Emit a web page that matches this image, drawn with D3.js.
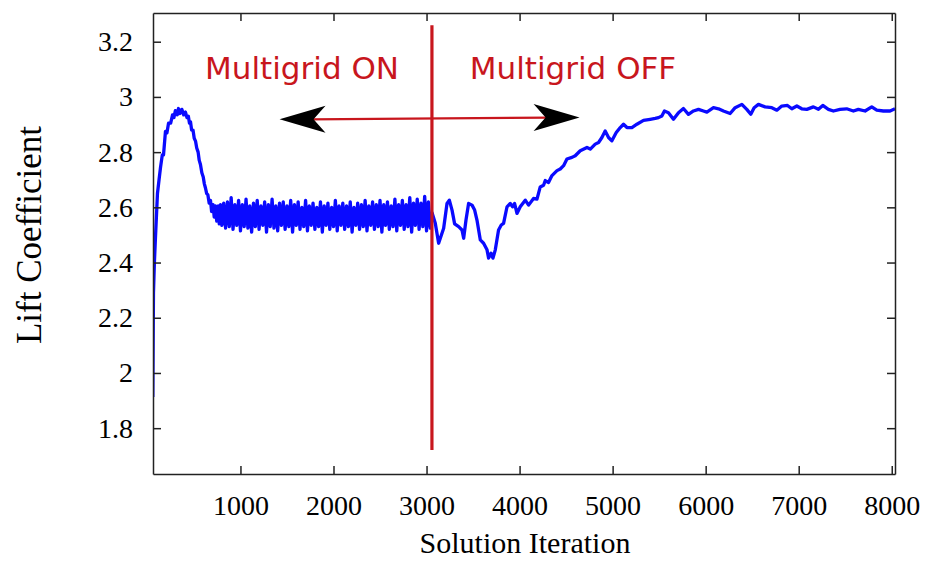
<!DOCTYPE html>
<html>
<head>
<meta charset="utf-8">
<script src="https://cdn.jsdelivr.net/npm/d3@7"></script>
<style>
  body { margin: 0; background: #fff; }
  .axis path, .axis line { stroke: #222; stroke-width: 1.5; }
</style>
</head>
<body>
<div id="chart"></div>
<script>
// start-up transient
var rampIter = [58, 65, 75, 87, 108, 125, 141, 160, 173, 194, 210, 227, 250, 270, 285, 300, 320, 334, 350,
    370, 390, 409, 425, 440, 452, 463, 475, 490, 503, 517, 530, 545, 557, 570, 585, 600, 612, 624, 637,
    650, 664, 678, 690, 705, 718, 731, 745, 760, 772, 785];
var rampLift = [1.913, 2.29, 2.40, 2.495, 2.65, 2.70, 2.745, 2.79, 2.79, 2.875, 2.87, 2.905, 2.905, 2.935,
    2.925, 2.95, 2.935, 2.958, 2.94, 2.955, 2.935, 2.945, 2.925, 2.93, 2.905, 2.91, 2.88, 2.88, 2.85,
    2.84, 2.815, 2.80, 2.77, 2.755, 2.725, 2.71, 2.685, 2.67, 2.65, 2.645, 2.615, 2.625, 2.585, 2.61,
    2.565, 2.605, 2.55, 2.605, 2.54, 2.61];

// multigrid ON oscillation, one sample every 20 iterations from 800
var mgStart = 800, mgStep = 20;
var mgLift = [2.535, 2.615, 2.525, 2.62, 2.53, 2.635, 2.52, 2.61, 2.535, 2.625, 2.515, 2.61, 2.53, 2.63,
    2.525, 2.605, 2.51, 2.615, 2.53, 2.625, 2.52, 2.605, 2.535, 2.62, 2.51, 2.61, 2.53, 2.63, 2.525,
    2.605, 2.515, 2.615, 2.535, 2.62, 2.52, 2.605, 2.53, 2.625, 2.51, 2.61, 2.535, 2.62, 2.52, 2.60,
    2.53, 2.625, 2.515, 2.605, 2.535, 2.615, 2.52, 2.60, 2.53, 2.62, 2.51, 2.605, 2.535, 2.615, 2.52,
    2.60, 2.53, 2.625, 2.515, 2.605, 2.535, 2.615, 2.52, 2.605, 2.53, 2.62, 2.51, 2.60, 2.535, 2.615,
    2.52, 2.61, 2.53, 2.625, 2.515, 2.605, 2.535, 2.62, 2.52, 2.61, 2.53, 2.625, 2.51, 2.61, 2.535,
    2.62, 2.52, 2.605, 2.53, 2.63, 2.515, 2.61, 2.535, 2.625, 2.52, 2.61, 2.53, 2.635, 2.51, 2.615,
    2.535, 2.63, 2.52, 2.615, 2.53, 2.64, 2.515, 2.62, 2.525];

// multigrid OFF
var offIter = [3060, 3094, 3130, 3184, 3220, 3245, 3274, 3302, 3345, 3381, 3399, 3424, 3452, 3489, 3517,
    3542, 3578, 3613, 3650, 3667, 3693, 3714, 3739, 3774, 3803, 3828, 3865, 3900, 3925, 3946, 3972,
    4007, 4061, 4097, 4150, 4187, 4222, 4258, 4276, 4311, 4348, 4402, 4437, 4473, 4509, 4563, 4598,
    4652, 4724, 4760, 4813, 4849, 4885, 4920, 4956, 4992, 5039, 5082, 5117, 5154, 5207, 5261, 5332,
    5404, 5458, 5493, 5529, 5557, 5600, 5654, 5708, 5761, 5815, 5869, 5923, 5976, 6013, 6084, 6138,
    6191, 6263, 6317, 6389, 6442, 6485, 6521, 6567, 6639, 6711, 6765, 6818, 6879, 6926, 6980, 7033,
    7087, 7158, 7212, 7259, 7319, 7373, 7444, 7516, 7588, 7641, 7713, 7785, 7839, 7910, 7982, 8035];
var offLift = [2.58, 2.542, 2.47, 2.524, 2.614, 2.626, 2.59, 2.54, 2.53, 2.518, 2.488, 2.554, 2.614, 2.608,
    2.59, 2.554, 2.482, 2.47, 2.446, 2.416, 2.434, 2.416, 2.446, 2.518, 2.536, 2.542, 2.602, 2.614,
    2.602, 2.614, 2.578, 2.602, 2.626, 2.608, 2.632, 2.63, 2.674, 2.68, 2.697, 2.69, 2.715, 2.733,
    2.739, 2.751, 2.775, 2.781, 2.787, 2.805, 2.817, 2.811, 2.829, 2.835, 2.853, 2.877, 2.853, 2.841,
    2.871, 2.889, 2.901, 2.889, 2.889, 2.901, 2.915, 2.919, 2.922, 2.925, 2.931, 2.949, 2.943, 2.919,
    2.943, 2.958, 2.937, 2.949, 2.955, 2.949, 2.945, 2.961, 2.957, 2.949, 2.94, 2.961, 2.973, 2.955,
    2.937, 2.961, 2.973, 2.964, 2.961, 2.952, 2.967, 2.969, 2.957, 2.967, 2.957, 2.955, 2.964, 2.955,
    2.969, 2.955, 2.949, 2.955, 2.957, 2.949, 2.955, 2.949, 2.964, 2.952, 2.949, 2.949, 2.957];

var xTicks = [1000, 2000, 3000, 4000, 5000, 6000, 7000, 8000];
var yTicks = [1.8, 2, 2.2, 2.4, 2.6, 2.8, 3, 3.2];

// annotations
var switchIter = 3058;
var switchLift = [1.721, 3.26];
var arrowLeft = [1420, 2.919];
var arrowRight = [4645, 2.925];
var labels = [
    { text: "Multigrid ON", iter: 620, lift: 3.065 },
    { text: "Multigrid OFF", iter: 3465, lift: 3.065 }
];

var W = 928, H = 562;
var margin = { top: 13, right: 33, bottom: 88, left: 153 };
var red = "#c8161d";
var serif = "'Liberation Serif', 'Times New Roman', serif";

var svg = d3.select("#chart").append("svg")
    .attr("width", W)
    .attr("height", H);

var x = d3.scaleLinear().domain([60, 8035]).range([margin.left, W - margin.right]);
var y = d3.scaleLinear().domain([1.634, 3.304]).range([H - margin.bottom, margin.top]);

var pts = [];
rampIter.forEach(function (it, i) { pts.push([it, rampLift[i]]); });
mgLift.forEach(function (v, i) { pts.push([mgStart + i * mgStep, v]); });
offIter.forEach(function (it, i) { pts.push([it, offLift[i]]); });

svg.append("clipPath").attr("id", "clip")
    .append("rect")
    .attr("x", margin.left).attr("y", margin.top)
    .attr("width", W - margin.left - margin.right)
    .attr("height", H - margin.top - margin.bottom);

var line = d3.line()
    .x(function (d) { return x(d[0]); })
    .y(function (d) { return y(d[1]); });

svg.append("path")
    .datum(pts)
    .attr("clip-path", "url(#clip)")
    .attr("fill", "none")
    .attr("stroke", "#0a0aff")
    .attr("stroke-width", 3.3)
    .attr("stroke-linejoin", "round")
    .attr("d", line);

// axes, ticks point inward on all four sides
var gx = svg.append("g").attr("class", "axis")
    .attr("transform", "translate(0," + (H - margin.bottom) + ")")
    .call(d3.axisBottom(x).tickValues(xTicks).tickSize(-8).tickPadding(21).tickSizeOuter(0)
        .tickFormat(d3.format("d")));
svg.append("g").attr("class", "axis")
    .attr("transform", "translate(0," + margin.top + ")")
    .call(d3.axisTop(x).tickValues(xTicks).tickSize(-8).tickFormat("").tickSizeOuter(0));
var gy = svg.append("g").attr("class", "axis")
    .attr("transform", "translate(" + margin.left + ",0)")
    .call(d3.axisLeft(y).tickValues(yTicks).tickSize(-8).tickPadding(20).tickSizeOuter(0)
        .tickFormat(function (d) { return String(d); }));
svg.append("g").attr("class", "axis")
    .attr("transform", "translate(" + (W - margin.right) + ",0)")
    .call(d3.axisRight(y).tickValues(yTicks).tickSize(-8).tickFormat("").tickSizeOuter(0));

[gx, gy].forEach(function (g) {
    g.attr("font-family", null).attr("font-size", null);
    g.selectAll("text")
        .style("font-family", serif)
        .style("font-size", "28px")
        .attr("fill", "#000");
});

// switch line
svg.append("line")
    .attr("x1", x(switchIter)).attr("x2", x(switchIter))
    .attr("y1", y(switchLift[0])).attr("y2", y(switchLift[1]))
    .attr("stroke", red)
    .attr("stroke-width", 3.2);

// double arrow
var ax1 = x(arrowLeft[0]), ay1 = y(arrowLeft[1]);
var ax2 = x(arrowRight[0]), ay2 = y(arrowRight[1]);
svg.append("line")
    .attr("x1", ax1 + 30).attr("y1", ay1)
    .attr("x2", ax2 - 30).attr("y2", ay2)
    .attr("stroke", red)
    .attr("stroke-width", 2.2);

var head = function (tx, ty, dir) {
    var p = [[tx, ty], [tx + dir * 46, ty - 13.5], [tx + dir * 34, ty], [tx + dir * 46, ty + 13.5]];
    svg.append("path")
        .attr("d", "M" + p.join("L") + "Z")
        .attr("fill", "#000");
};
head(ax1, ay1, 1);
head(ax2, ay2, -1);

svg.selectAll(".mg")
    .data(labels)
    .enter().append("text")
    .attr("class", "mg")
    .attr("x", function (d) { return x(d.iter); })
    .attr("y", function (d) { return y(d.lift); })
    .attr("fill", red)
    .style("font-family", "'DejaVu Sans', sans-serif")
    .style("font-size", "31px")
    .text(function (d) { return d.text; });

// axis titles
svg.append("text")
    .attr("x", 525).attr("y", 553)
    .attr("text-anchor", "middle")
    .style("font-family", serif)
    .style("font-size", "30px")
    .text("Solution Iteration");

svg.append("text")
    .attr("transform", "translate(41,235) rotate(-90)")
    .attr("text-anchor", "middle")
    .style("font-family", serif)
    .style("font-size", "35px")
    .text("Lift Coefficient");
</script>
</body>
</html>
